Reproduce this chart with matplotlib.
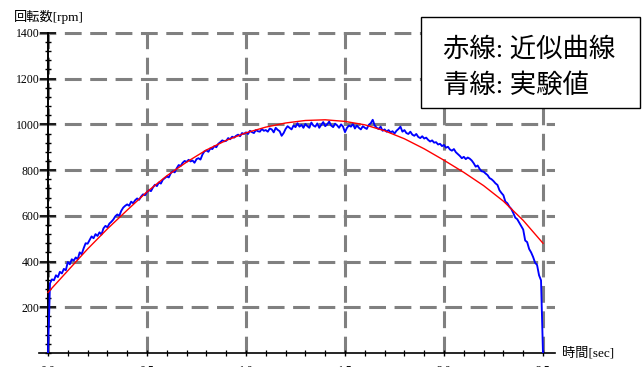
import matplotlib
matplotlib.use('Agg')
import matplotlib.pyplot as plt
from matplotlib.ticker import MultipleLocator
import numpy as np

# fitted curve (red), every 0.1 s
fit_t = [0.0, 0.1, 0.2, 0.3, 0.4, 0.5, 0.6, 0.7, 0.8, 0.9, 1.0, 1.1, 1.2,
         1.3, 1.4, 1.5, 1.6, 1.7, 1.8, 1.9, 2.0, 2.1, 2.2, 2.3, 2.4, 2.5]
fit_rpm = [265, 360, 455, 543, 625, 705, 775, 835, 888, 930, 963, 988, 1006,
           1017, 1020, 1013, 998, 972, 937, 893, 843, 790, 732, 664, 580, 480]

# measured speed (blue), sampled every 0.01 s (one row = 0.1 s)
meas_rpm = [0, 305, 322, 318, 340, 332, 355, 348, 368, 362,
            398, 388, 410, 404, 418, 410, 440, 432, 458, 480,
            478, 494, 510, 502, 520, 512, 528, 518, 545, 556,
            550, 566, 574, 584, 598, 606, 600, 622, 636, 644,
            650, 644, 662, 655, 668, 676, 670, 684, 694, 690,
            704, 712, 708, 724, 736, 730, 746, 741, 758, 765,
            772, 768, 786, 795, 790, 808, 822, 818, 832, 840,
            836, 845, 838, 842, 832, 848, 852, 846, 868, 882,
            886, 880, 895, 892, 905, 900, 915, 922, 930, 926,
            928, 940, 935, 946, 942, 950, 955, 948, 962, 958,
            965, 958, 972, 966, 962, 975, 970, 968, 980, 972,
            975, 968, 982, 978, 965, 985, 976, 970, 950, 962,
            980, 992, 985, 978, 995, 988, 1005, 990, 998, 985,
            1002, 992, 985, 1008, 995, 990, 1004, 985, 998, 1010,
            992, 1000, 1012, 995, 988, 1003, 996, 985, 1000, 990,
            966, 985, 995, 990, 1002, 982, 995, 985, 978, 992,
            985, 980, 998, 1005, 1020, 995, 985, 980, 990, 972,
            978, 968, 975, 965, 970, 960, 972, 980, 990, 968,
            975, 962, 958, 968, 955, 950, 958, 945, 940, 948,
            938, 942, 932, 925, 930, 920, 922, 912, 915, 905,
            910, 898, 902, 890, 885, 892, 878, 870, 862, 852,
            858, 848, 855, 850, 842, 830, 815, 820, 805, 795,
            793, 785, 778, 765, 760, 752, 742, 735, 712, 700,
            690, 662, 655, 640, 630, 612, 592, 585, 570, 555,
            540, 492, 485, 455, 440, 420, 395, 385, 340, 318,
            0]
meas_t = np.linspace(0, 2.5, len(meas_rpm))

x_ticks = [0.0, 0.5, 1.0, 1.5, 2.0, 2.5]
x_labels = ['0.0', '0.5', '1.0', '1.5', '2.0', '2.5']
y_ticks = [200, 400, 600, 800, 1000, 1200, 1400]

fonts = ['Liberation Serif', 'Noto Sans CJK JP']

fig = plt.figure(figsize=(6.44, 3.67), dpi=100)
ax = fig.add_axes([39 / 644, 14 / 367, 516 / 644, 321 / 367])

ax.plot(meas_t, meas_rpm, color='#0000ff', lw=1.35, zorder=3)
ax.plot(fit_t, fit_rpm, color='#ff0000', lw=1.0, zorder=4)

ax.set_xlim(-0.0455, 2.5606)
ax.set_ylim(0, 1404)

ax.spines['top'].set_visible(False)
ax.spines['right'].set_visible(False)
ax.spines['left'].set_position(('data', 0))
ax.spines['left'].set_bounds(0, 1400)
ax.spines['left'].set_linewidth(1.4)
ax.spines['bottom'].set_linewidth(1.2)

ax.set_xticks(x_ticks)
ax.set_xticklabels(x_labels)
ax.set_yticks(y_ticks)
ax.xaxis.set_minor_locator(MultipleLocator(0.1))
ax.yaxis.set_minor_locator(MultipleLocator(40))
ax.tick_params(axis='y', which='major', direction='inout', length=12, width=1.1, pad=0)
ax.tick_params(axis='y', which='minor', direction='inout', length=5, width=1.0)
ax.tick_params(axis='x', which='major', direction='inout', length=5, width=1.0, pad=6)
ax.tick_params(axis='x', which='minor', direction='inout', length=4, width=0.9)
for lab in ax.get_xticklabels() + ax.get_yticklabels():
    lab.set_family(fonts)
    lab.set_fontsize(8.5)

ax.grid(True, which='major', color='#808080', lw=2.2, linestyle=(0, (5.5, 2.8)))
ax.set_axisbelow(True)

fig.text(14 / 644, 1 - 17 / 367, '回転数[rpm]', family=fonts, fontsize=9.5,
         ha='left', va='center')
fig.text(562 / 644, 1 - 353 / 367, '時間[sec]', family=fonts, fontsize=9.5,
         ha='left', va='center')

# legend box
box = plt.Rectangle((421 / 644, 1 - 108 / 367), 219 / 644, 91 / 367,
                    transform=fig.transFigure, facecolor='white',
                    edgecolor='black', lw=1.0, zorder=5)
fig.patches.append(box)
fig.text(443 / 644, 1 - 49 / 367, '赤線: 近似曲線', family=fonts, fontsize=19,
         ha='left', va='center', zorder=6)
fig.text(443 / 644, 1 - 86 / 367, '青線: 実験値', family=fonts, fontsize=19,
         ha='left', va='center', zorder=6)

fig.savefig('out.png', dpi=100)
